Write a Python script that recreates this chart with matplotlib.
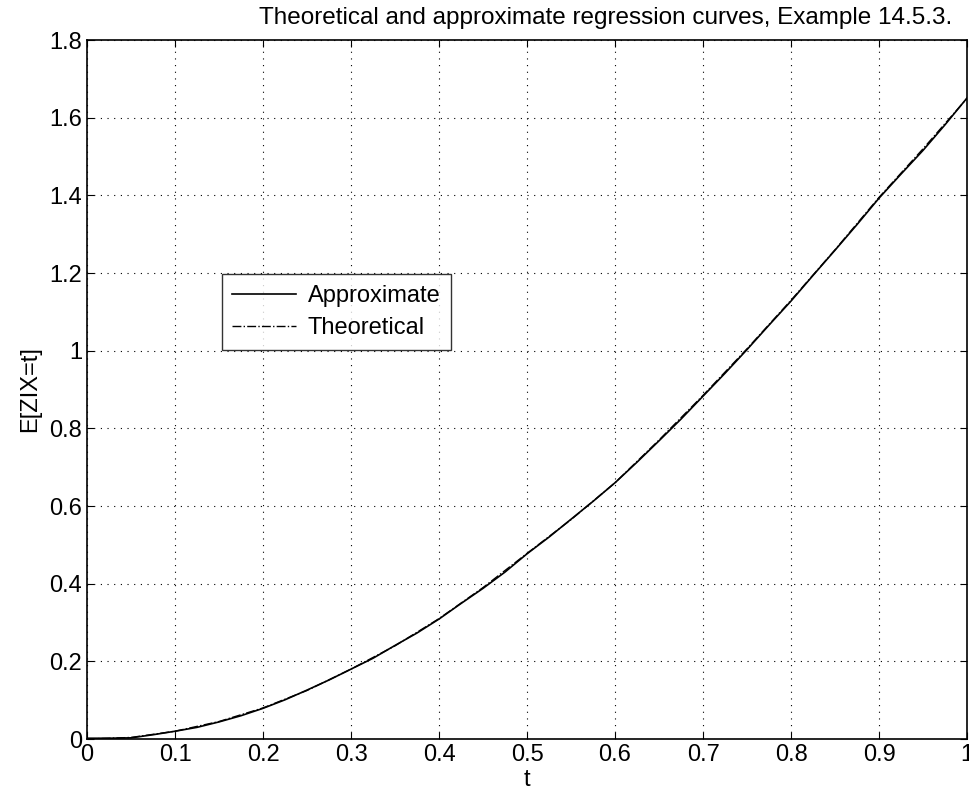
import matplotlib
matplotlib.use("Agg")
import matplotlib.pyplot as plt

plt.rcParams["font.family"] = ["Liberation Sans", "DejaVu Sans"]

t_theo = [0.0, 0.05, 0.1, 0.15, 0.2, 0.25, 0.3, 0.35, 0.4, 0.45, 0.5,
          0.55, 0.6, 0.65, 0.7, 0.75, 0.8, 0.85, 0.9, 0.95, 1.0]
ez_theo = [0.0, 0.004, 0.02, 0.045, 0.08, 0.125, 0.18, 0.24, 0.31, 0.39, 0.478,
           0.565, 0.66, 0.77, 0.885, 1.005, 1.13, 1.26, 1.395, 1.52, 1.65]

# approximate curve, read off at 0.025 steps
t_appr = [0.0, 0.025, 0.05, 0.075, 0.1, 0.125, 0.15, 0.175, 0.2, 0.225,
          0.25, 0.275, 0.3, 0.325, 0.35, 0.375, 0.4, 0.425, 0.45, 0.475,
          0.5, 0.525, 0.55, 0.575, 0.6, 0.625, 0.65, 0.675, 0.7, 0.725,
          0.75, 0.775, 0.8, 0.825, 0.85, 0.875, 0.9, 0.925, 0.95, 0.975, 1.0]
ez_appr = [0.002, 0.002, 0.003, 0.011, 0.02, 0.03, 0.044, 0.06, 0.079, 0.101,
           0.126, 0.152, 0.18, 0.208, 0.241, 0.273, 0.309, 0.349, 0.388, 0.43,
           0.477, 0.52, 0.566, 0.612, 0.66, 0.713, 0.768, 0.824, 0.883, 0.942,
           1.003, 1.066, 1.128, 1.194, 1.259, 1.325, 1.393, 1.455, 1.516, 1.582, 1.651]

xticks = [0, 0.1, 0.2, 0.3, 0.4, 0.5, 0.6, 0.7, 0.8, 0.9, 1]
xticklabels = ["0", "0.1", "0.2", "0.3", "0.4", "0.5", "0.6", "0.7", "0.8", "0.9", "1"]
yticks = [0, 0.2, 0.4, 0.6, 0.8, 1.0, 1.2, 1.4, 1.6, 1.8]
yticklabels = ["0", "0.2", "0.4", "0.6", "0.8", "1", "1.2", "1.4", "1.6", "1.8"]

fig = plt.figure(figsize=(9.7, 7.96), dpi=100)
ax = fig.add_axes([0.0897, 0.0716, 0.9073, 0.8781])

ax.plot(t_appr, ez_appr, "k-", lw=1.2, label="Approximate")
ax.plot(t_theo, ez_theo, "k-.", lw=1.0, label="Theoretical")

ax.set_xlim(0, 1)
ax.set_ylim(0, 1.8)
ax.set_xticks(xticks)
ax.set_xticklabels(xticklabels)
ax.set_yticks(yticks)
ax.set_yticklabels(yticklabels)
ax.tick_params(direction="in", top=True, right=True, labelsize=17, length=5, width=0.8)
ax.grid(True, linestyle=(0, (1, 5)), color="k", linewidth=0.8)
for s in ax.spines.values():
    s.set_linewidth(1.2)

ax.set_xlabel("t", fontsize=17, labelpad=2)
ax.set_ylabel("E[ZIX=t]", fontsize=17, labelpad=6)
fig.text(606 / 970, 1 - 18 / 796, "Theoretical and approximate regression curves, Example 14.5.3.",
         ha="center", va="center", fontsize=17.5)

leg = ax.legend(loc="upper left", bbox_to_anchor=(0.153, 0.665), fontsize=17,
                frameon=True, fancybox=False, edgecolor="k", handlelength=2.7,
                borderpad=0.45, labelspacing=0.45, handletextpad=0.5, borderaxespad=0)
leg.get_frame().set_linewidth(1.0)

fig.savefig("out.png", dpi=100)
